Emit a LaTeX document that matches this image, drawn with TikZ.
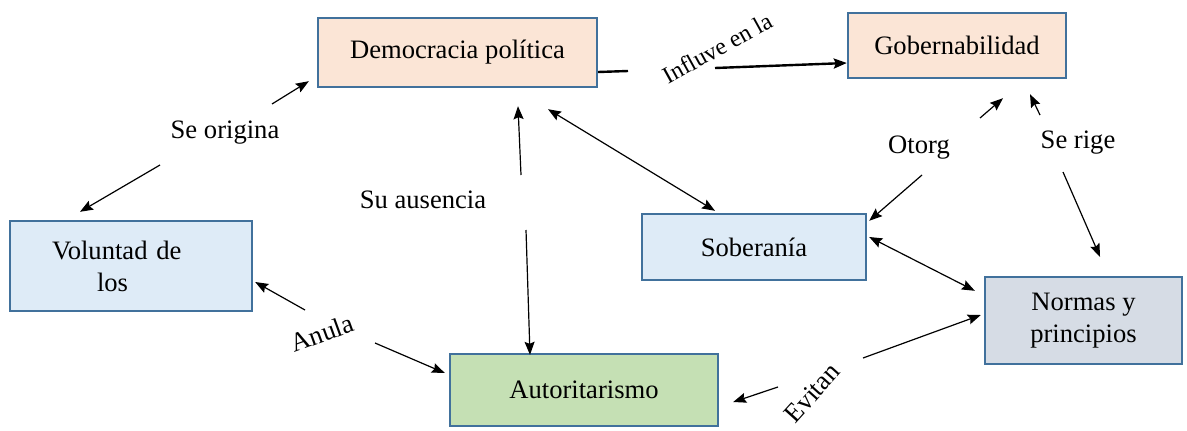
\documentclass[tikz,border=0pt]{standalone}
\usepackage{fontspec}
\setmainfont{Liberation Serif}
\usetikzlibrary{arrows.meta}
\definecolor{peach}{RGB}{251,229,214}
\definecolor{skyfill}{RGB}{222,235,247}
\definecolor{greyfill}{RGB}{214,220,229}
\definecolor{greenfill}{RGB}{197,224,180}
\definecolor{edge}{RGB}{65,113,156}
\begin{document}
\begin{tikzpicture}[x=0.5pt,y=0.5pt,
  box/.style={draw=edge,line width=1.2pt,font=\fontsize{13.3}{16}\selectfont,inner sep=2pt},
  lbl/.style={font=\fontsize{13.3}{16}\selectfont,inner sep=1pt},
  arr/.style={line width=0.6pt},
  >={Stealth[length=6.5pt,width=5pt,inset=1pt]}]
\useasboundingbox (0,0) rectangle (1187,430);
\node[box,fill=peach,minimum width=139.5pt,minimum height=34.5pt] (dem) at (457.5,377.5) {Democracia política};
\node[box,fill=peach,minimum width=109pt,minimum height=32.5pt] (gob) at (957,384.5) {Gobernabilidad};
\node[box,fill=skyfill,minimum width=121pt,minimum height=45pt,text width=79pt,align=left] (vol) at (131,164) {Voluntad de\\\hspace*{22.5pt}los};
\node[box,fill=skyfill,minimum width=112pt,minimum height=33pt] (sob) at (754,183) {Soberanía};
\node[box,fill=greyfill,minimum width=98.5pt,minimum height=43.5pt,align=center] (nor) at (1083.5,109.5) {Normas y\\principios};
\node[box,fill=greenfill,minimum width=134pt,minimum height=36pt] (aut) at (584,40) {Autoritarismo};

\node[lbl] (orig) at (225,297) {Se origina};
\node[lbl] (aus) at (423,230) {Su ausencia};
\node[lbl,rotate=29,font=\fontsize{12}{14}\selectfont] (infl) at (717,382) {Influve en la};
\node[lbl] (otor) at (919,282) {Otorg};
\node[lbl] (rige) at (1078,287) {Se rige};
\node[lbl,rotate=20] (anul) at (322,97) {Anula};
\node[lbl,rotate=48] (evit) at (812,37) {Evitan};

\coordinate (infA) at (628,359);
\coordinate (infB) at (715,362);
\draw[line width=1.2pt] ([yshift=-9.75pt]dem.east) -- (infA);
\draw[line width=1.2pt,->] (infB) -- ([yshift=-8.75pt]gob.west);

\coordinate (origA) at (272,326);
\coordinate (origB) at (160,265);
\draw[arr,->] (origA) -- ([xshift=-4pt,yshift=3.5pt]dem.south west);
\draw[arr,->] (origB) -- ([xshift=-25.5pt,yshift=4pt]vol.north);

\coordinate (ausA) at (521,255);
\coordinate (ausB) at (526,200);
\draw[arr,->] (ausA) -- ([xshift=30.25pt,yshift=-9pt]dem.south);
\draw[arr,->] (ausB) -- ([xshift=-27pt,yshift=-1pt]aut.north);

\draw[arr,<->] ([xshift=45.25pt,yshift=-10.5pt]dem.south) -- ([xshift=-19.5pt,yshift=1pt]sob.north);

\coordinate (otorA) at (980,312);
\coordinate (otorB) at (922,255);
\draw[arr,->] (otorA) -- ([xshift=23pt,yshift=-9.5pt]gob.south);
\draw[arr,->] (otorB) -- ([xshift=1pt,yshift=-4pt]sob.north east);

\coordinate (rigeA) at (1040,315);
\coordinate (rigeB) at (1063,258);
\draw[arr,->] (rigeA) -- ([xshift=36.5pt,yshift=-7.5pt]gob.south);
\draw[arr,->] (rigeB) -- ([xshift=8.25pt,yshift=9.5pt]nor.north);

\draw[arr,<->] ([xshift=1pt,yshift=5pt]sob.east) -- ([xshift=-4.5pt,yshift=-7.5pt]nor.north west);

\coordinate (anulA) at (305,120);
\coordinate (anulB) at (375,87);
\draw[arr,->] (anulA) -- ([xshift=1pt,yshift=-8pt]vol.east);
\draw[arr,->] (anulB) -- ([xshift=-2pt,yshift=8.5pt]aut.west);

\coordinate (evitA) at (778,43);
\coordinate (evitB) at (863,72);
\draw[arr,->] (evitA) -- ([xshift=7pt,yshift=-6pt]aut.east);
\draw[arr,->] (evitB) -- ([xshift=-1.5pt,yshift=2.75pt]nor.west);
\end{tikzpicture}
\end{document}
